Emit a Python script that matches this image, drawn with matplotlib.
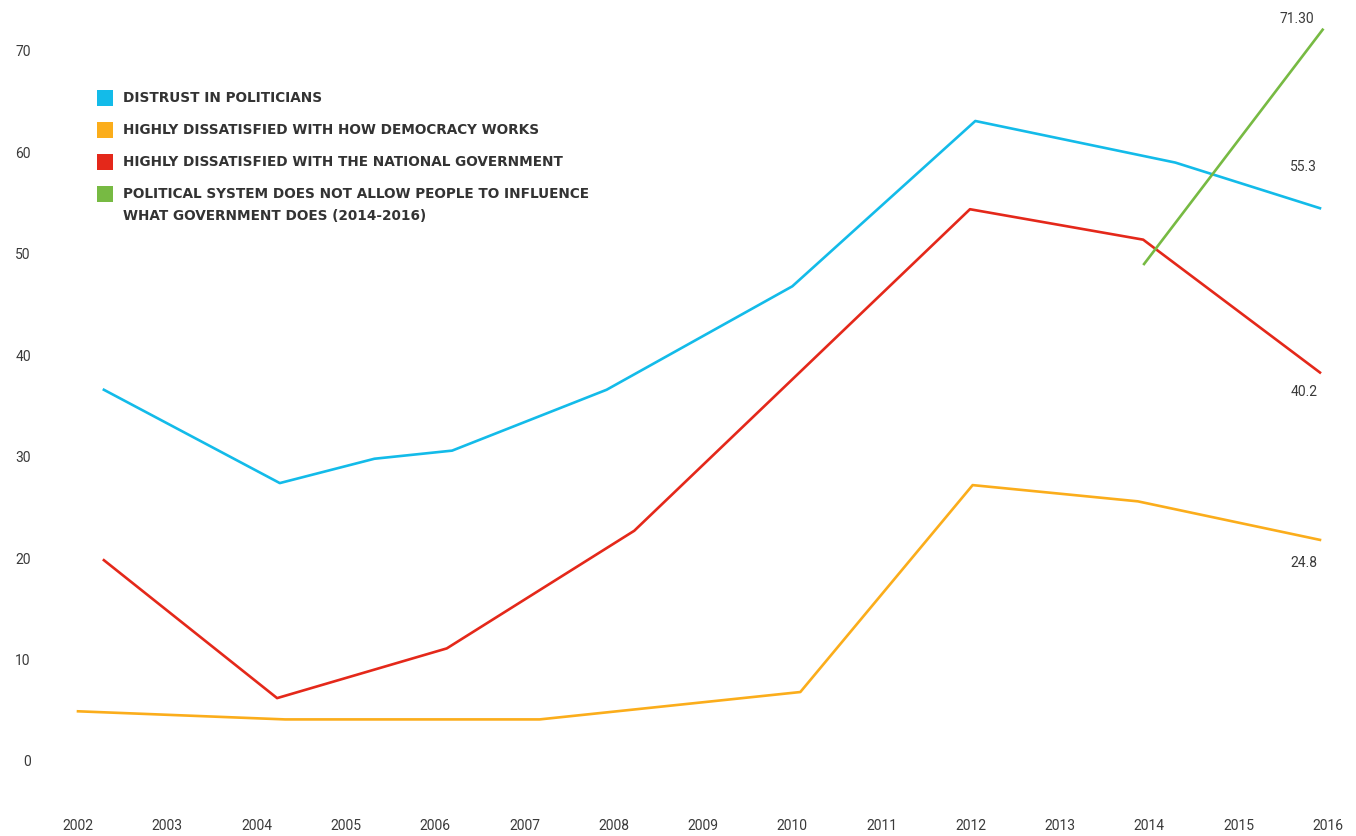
import matplotlib
matplotlib.use("Agg")
import matplotlib.pyplot as plt
from matplotlib.patches import Rectangle

plt.rcParams['font.family'] = ['Roboto', 'DejaVu Sans']

# Dados (anos fracionados, valores em %)
anos_desconfianca = [2002.29, 2004.26, 2005.32, 2006.19, 2007.92, 2010.0, 2012.05, 2014.29, 2015.91]
desconfianca = [36.6, 27.4, 29.8, 30.6, 36.6, 46.8, 63.1, 59.0, 54.5]

anos_democracia = [2002.0, 2004.32, 2007.17, 2010.09, 2012.02, 2013.87, 2015.91]
democracia = [4.9, 4.1, 4.1, 6.8, 27.2, 25.6, 21.8]

anos_governo = [2002.29, 2004.23, 2006.13, 2008.23, 2011.99, 2013.93, 2015.91]
governo = [19.8, 6.2, 11.1, 22.7, 54.4, 51.4, 38.3]

anos_sistema = [2013.94, 2015.94]
sistema = [49.0, 72.1]

rotulos = [
    "DISTRUST IN POLITICIANS",
    "HIGHLY DISSATISFIED WITH HOW DEMOCRACY WORKS",
    "HIGHLY DISSATISFIED WITH THE NATIONAL GOVERNMENT",
    "POLITICAL SYSTEM DOES NOT ALLOW PEOPLE TO INFLUENCE\nWHAT GOVERNMENT DOES (2014-2016)",
]
valores_finais = ["55.3", "24.8", "40.2", "71.30"]

anos_ticks = list(range(2002, 2017))
y_ticks = list(range(0, 80, 10))

cores = ["#13BBE9", "#FBAD1B", "#E4281A", "#77BA43"]
series = [
    (anos_desconfianca, desconfianca),
    (anos_democracia, democracia),
    (anos_governo, governo),
    (anos_sistema, sistema),
]

W, H = 1356, 836
fig = plt.figure(figsize=(W / 100, H / 100), dpi=100)
ax = fig.add_axes([78 / W, (H - 761) / H, 1250 / W, 710 / H])

for (x, y), cor in zip(series, cores):
    ax.plot(x, y, color=cor, linewidth=1.9, clip_on=False)

ax.set_xlim(2002, 2016)
ax.set_ylim(0, 70)
ax.set_xticks(anos_ticks)
ax.set_xticklabels([str(a) for a in anos_ticks])
ax.set_yticks(y_ticks)
ax.set_yticklabels([str(v) for v in y_ticks])
for s in ax.spines.values():
    s.set_visible(False)
ax.tick_params(axis="both", length=0, labelsize=10, labelcolor="#3a3a3a")
ax.tick_params(axis="x", pad=42)
ax.tick_params(axis="y", pad=34)

# rótulos dos valores finais
deslocamentos = [(-2, 30), (-2, -17), (-2, -14), (-6, 8)]
for (x, y), txt, (dx, dy) in zip(series, valores_finais, deslocamentos):
    ax.annotate(txt, xy=(x[-1], y[-1]), xytext=(dx, dy), textcoords="offset points",
                ha="right", va="center", fontsize=10, color="#3a3a3a", annotation_clip=False)

# legenda manual
linhas_y = [98, 130, 162, 194]
for cor, rotulo, py in zip(cores, rotulos, linhas_y):
    fig.patches.append(Rectangle((97 / W, (H - py - 8) / H), 16 / W, 16 / H,
                                 transform=fig.transFigure, facecolor=cor, edgecolor="none"))
    fig.text(123 / W, (H - py + 7) / H, rotulo, ha="left", va="top",
             family="DejaVu Sans", fontsize=9.8, fontweight="bold", color="#333333",
             linespacing=1.75)

fig.savefig("out.png", dpi=100, facecolor="white")
